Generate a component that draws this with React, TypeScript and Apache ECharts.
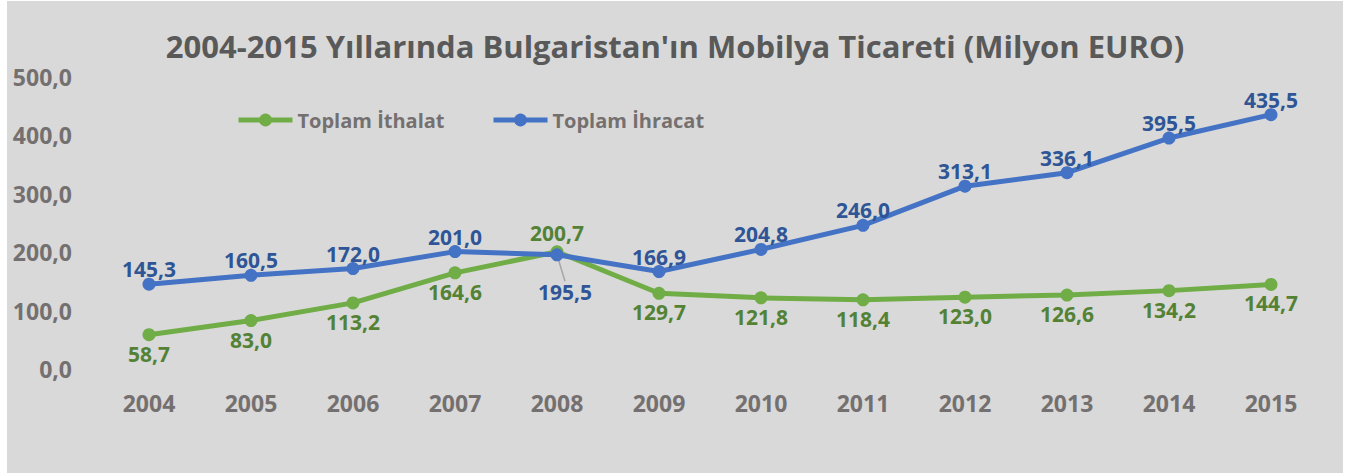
import React, { useEffect, useRef } from "react";
import * as echarts from "echarts";

const years = ["2004", "2005", "2006", "2007", "2008", "2009", "2010", "2011", "2012", "2013", "2014", "2015"];
const ithalat = [58.7, 83.0, 113.2, 164.6, 200.7, 129.7, 121.8, 118.4, 123.0, 126.6, 134.2, 144.7];
const ihracat = [145.3, 160.5, 172.0, 201.0, 195.5, 166.9, 204.8, 246.0, 313.1, 336.1, 395.5, 435.5];
const titleText = "2004-2015 Yıllarında Bulgaristan'ın Mobilya Ticareti (Milyon EURO)";
const seriesNames = ["Toplam İthalat", "Toplam İhracat"];

const FONT = "'Open Sans', 'Noto Sans', sans-serif";
const fmt = (v: number) => v.toFixed(1).replace(".", ",");

export default function App() {
  const ref = useRef<HTMLDivElement>(null);
  useEffect(() => {
    if (!ref.current) return;
    const chart = echarts.init(ref.current, undefined, { renderer: "svg" });
    const greenLabel = { color: "#548235", fontFamily: FONT, fontWeight: "bold", fontSize: 21 };
    const blueLabel = { color: "#2F5597", fontFamily: FONT, fontWeight: "bold", fontSize: 21 };
    const legendCommon = {
      top: 109,
      padding: 0,
      itemWidth: 54,
      itemHeight: 16,
      itemGap: 0,
      lineStyle: { width: 5 },
      textStyle: { color: "#757070", fontFamily: FONT, fontWeight: "bold", fontSize: 20 },
    };
    chart.setOption({
      animation: false,
      backgroundColor: "#d9d9d9",
      title: {
        text: titleText,
        left: "center",
        top: 24,
        textStyle: { color: "#595959", fontFamily: FONT, fontWeight: "bold", fontSize: 31 },
      },
      legend: [
        { ...legendCommon, data: [seriesNames[0]], left: 229 },
        { ...legendCommon, data: [seriesNames[1]], left: 484 },
      ],
      grid: { left: 91, right: 21, top: 76, bottom: 104 },
      xAxis: {
        type: "category",
        data: years,
        axisLine: { show: false },
        axisTick: { show: false },
        axisLabel: { color: "#757070", fontFamily: FONT, fontWeight: "bold", fontSize: 23, margin: 22 },
      },
      yAxis: {
        type: "value",
        min: 0,
        max: 500,
        interval: 100,
        splitLine: { show: false },
        axisLine: { show: false },
        axisTick: { show: false },
        axisLabel: {
          color: "#757070",
          fontFamily: FONT,
          fontWeight: "bold",
          fontSize: 23,
          margin: 26,
          formatter: (v: number) => fmt(v),
        },
      },
      series: [
        {
          name: seriesNames[0],
          type: "line",
          data: ithalat.map((v, i) =>
            i === 4
              ? { value: v, label: { position: "top", distance: 2 } }
              : { value: v }
          ),
          symbol: "circle",
          symbolSize: 13,
          lineStyle: { color: "#70AD47", width: 5 },
          itemStyle: { color: "#70AD47" },
          label: {
            show: true,
            position: "bottom",
            distance: 2,
            formatter: (p: any) => fmt(p.value),
            ...greenLabel,
          },
          z: 2,
        },
        {
          name: seriesNames[1],
          type: "line",
          data: ihracat.map((v, i) =>
            i === 4
              ? { value: v, label: { position: "bottom", distance: 2 } }
              : { value: v }
          ),
          symbol: "circle",
          symbolSize: 13,
          lineStyle: { color: "#4472C4", width: 5 },
          itemStyle: { color: "#4472C4" },
          label: {
            show: true,
            position: "top",
            distance: -2,
            formatter: (p: any) => fmt(p.value),
            ...blueLabel,
          },
          labelLayout: (params: any) => (params.dataIndex === 4 ? { dx: 8, dy: 18 } : {}),
          labelLine: { show: true, length2: 0, lineStyle: { color: "#a6a6a6", width: 1.5 } },
          z: 3,
        },
      ],
    });
    return () => chart.dispose();
  }, []);
  return (
    <div
      ref={ref}
      style={{ position: "absolute", left: 7, top: 1, width: 1336, height: 472 }}
    />
  );
}
